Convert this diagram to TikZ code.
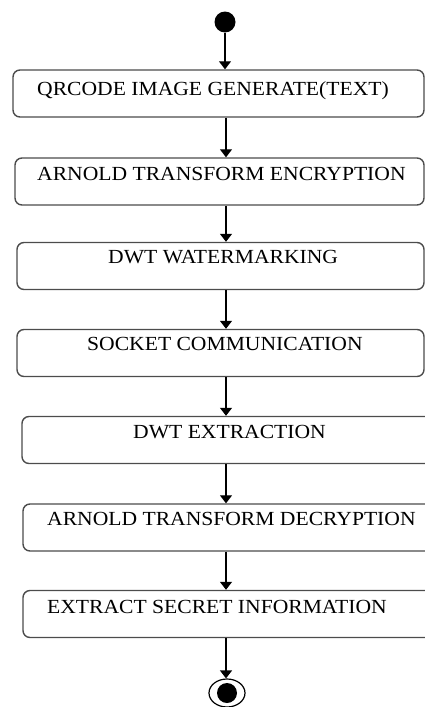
\documentclass[tikz,border=0pt]{standalone}
\usepackage{fontspec}
\setmainfont{Liberation Serif}[FakeStretch=1.08]
\usetikzlibrary{arrows.meta,shapes.geometric}
\begin{document}
\begin{tikzpicture}[x=1pt,y=-1pt,
  stepbox/.style={draw=black!70,line width=1.4pt,rounded corners=7pt,inner sep=0pt,minimum height=47pt},
  lbl/.style={anchor=base west,inner sep=0pt,font=\fontsize{20}{22}\selectfont},
  flow/.style={line width=1.2pt,-{Triangle[width=12pt,length=8pt]}}]
\useasboundingbox (0,0) rectangle (425,707);
\begin{scope}
\clip (0,0) rectangle (425,707);
\node[circle,fill=black,inner sep=0pt,minimum size=21pt] (start) at (225,22) {};
\node[stepbox,minimum width=411pt] (b1) at (218.5,93.5) {};
\node[stepbox,minimum width=409pt] (b2) at (219.5,181.5) {};
\node[stepbox,minimum width=407pt] (b3) at (220.5,266) {};
\node[stepbox,minimum width=407pt] (b4) at (220.5,353) {};
\node[stepbox,minimum width=412pt] (b5) at (228,440) {};
\node[stepbox,minimum width=412pt] (b6) at (229,527.5) {};
\node[stepbox,minimum width=412pt] (b7) at (229,614) {};
\node[lbl] (t1) at (37,95) {QRCODE IMAGE GENERATE(TEXT)};
\node[lbl] (t2) at (37,180) {ARNOLD TRANSFORM ENCRYPTION};
\node[lbl] (t3) at (108,263) {DWT WATERMARKING};
\node[lbl] (t4) at (87,350) {SOCKET COMMUNICATION};
\node[lbl] (t5) at (133,438) {DWT EXTRACTION};
\node[lbl] (t6) at (47,525) {ARNOLD TRANSFORM DECRYPTION};
\node[lbl] (t7) at (47,613) {EXTRACT SECRET INFORMATION};
\node[ellipse,draw=black,line width=1.2pt,minimum width=36pt,minimum height=28pt,inner sep=0pt] (endo) at (227,693) {};
\node[circle,fill=black,inner sep=0pt,minimum size=20pt] (endi) at (227,693) {};
\coordinate (ax) at (226,0);
\draw[flow] (start) -- (b1.north -| start);
\draw[flow] (b1.south -| ax) -- (b2.north -| ax);
\draw[flow] (b2.south -| ax) -- (b3.north -| ax);
\draw[flow] (b3.south -| ax) -- (b4.north -| ax);
\draw[flow] (b4.south -| ax) -- (b5.north -| ax);
\draw[flow] (b5.south -| ax) -- (b6.north -| ax);
\draw[flow] (b6.south -| ax) -- (b7.north -| ax);
\draw[flow] (b7.south -| ax) -- (endo.north -| ax);
\end{scope}
\end{tikzpicture}
\end{document}
